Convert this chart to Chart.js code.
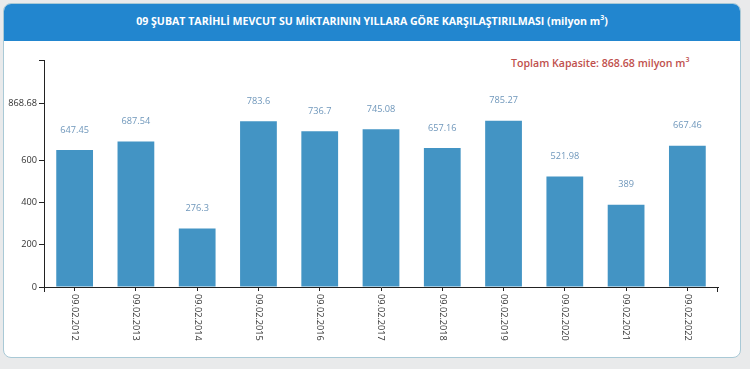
<!DOCTYPE html>
<html>
<head>
<meta charset="utf-8">
<script src="https://cdn.jsdelivr.net/npm/chart.js@4/dist/chart.umd.min.js"></script>
<style>
  html, body { margin:0; padding:0; width:750px; height:369px; overflow:hidden; background:#e9eaeb; font-family:"Open Sans", sans-serif; }
  #card { position:absolute; left:3px; top:3px; width:736px; height:353px; background:#fff; border:1px solid #a9c9d6; border-radius:8px; overflow:hidden; }
  #head { position:absolute; left:0; top:0; width:100%; height:37px; background:#2286cf; color:#fff; font-weight:bold; font-size:10.6px; text-align:center; line-height:35px; }
  #cap { position:absolute; left:511px; top:56px; color:#c0504d; font-weight:600; font-size:10.6px; white-space:nowrap; }
  sup { font-size:7px; vertical-align:5px; line-height:0; }
  #c { position:absolute; left:0; top:0; }
</style>
</head>
<body>
<div id="card"><div id="head">09 ŞUBAT TARİHLİ MEVCUT SU MİKTARININ YILLARA GÖRE KARŞILAŞTIRILMASI (milyon m<sup>3</sup>)</div></div>
<div id="cap">Toplam Kapasite: 868.68 milyon m<sup>3</sup></div>
<canvas id="c" width="750" height="369"></canvas>
<script>
const categories = ["09.02.2012","09.02.2013","09.02.2014","09.02.2015","09.02.2016","09.02.2017","09.02.2018","09.02.2019","09.02.2020","09.02.2021","09.02.2022"];
const values = [647.45, 687.54, 276.3, 783.6, 736.7, 745.08, 657.16, 785.27, 521.98, 389, 667.46];
const yTicks = [0, 200, 400, 600, 868.68];
const yMax = 1073;

const labelPlugin = {
  id: 'labels',
  afterDatasetsDraw(chart) {
    const ctx = chart.ctx;
    const meta = chart.getDatasetMeta(0);
    ctx.save();
    ctx.font = '9.2px "Open Sans"';
    ctx.fillStyle = '#6f97bb';
    ctx.textAlign = 'center';
    ctx.textBaseline = 'middle';
    meta.data.forEach((bar, i) => {
      ctx.fillText(String(values[i]), bar.x, bar.y - 20);
    });
    ctx.restore();
  },
  afterDraw(chart) {
    const ctx = chart.ctx;
    const xs = chart.scales.x;
    const area = chart.chartArea;
    ctx.save();
    ctx.font = '9.2px "Open Sans"';
    ctx.fillStyle = '#333';
    ctx.textAlign = 'left';
    ctx.textBaseline = 'middle';
    categories.forEach((c, i) => {
      const x = xs.getPixelForTick(i);
      ctx.save();
      ctx.translate(x, area.bottom + 7);
      ctx.rotate(Math.PI / 2);
      ctx.fillText(c, 0, 0);
      ctx.restore();
    });
    ctx.strokeStyle = '#222';
    ctx.lineWidth = 1;
    ctx.beginPath();
    ctx.moveTo(Math.round(area.left) + 0.5, area.bottom);
    ctx.lineTo(Math.round(area.left) + 0.5, area.bottom + 5);
    ctx.moveTo(Math.round(area.right) - 0.5, area.bottom);
    ctx.lineTo(Math.round(area.right) - 0.5, area.bottom + 5);
    ctx.stroke();
    ctx.restore();
  }
};

new Chart(document.getElementById('c'), {
  type: 'bar',
  data: {
    labels: categories,
    datasets: [{ data: values, backgroundColor: '#4394c4', barPercentage: 0.6, categoryPercentage: 1 }]
  },
  plugins: [labelPlugin],
  options: {
    responsive: false,
    animation: false,
    layout: { padding: { left: 0, right: 32, top: 60, bottom: 0 } },
    plugins: { legend: { display: false }, tooltip: { enabled: false } },
    scales: {
      x: {
        offset: true,
        grid: { display: true, drawOnChartArea: false, tickLength: 4, color: '#222', offset: false },
        border: { display: true, color: '#222', width: 1 },
        ticks: { display: false },
        afterFit(s) { s.height = 82; }
      },
      y: {
        min: 0, max: yMax,
        afterBuildTicks(s) { s.ticks = yTicks.concat([yMax]).map(v => ({ value: v })); },
        afterFit(s) { s.width = 44; },
        grid: { display: true, drawOnChartArea: false, tickLength: 5, color: '#222' },
        border: { display: true, color: '#222', width: 1 },
        ticks: {
          font: { family: '"Open Sans"', size: 9.2 }, color: '#333', padding: 2,
          callback: (v) => v === yMax ? '' : String(v)
        }
      }
    }
  }
});
</script>
</body>
</html>
